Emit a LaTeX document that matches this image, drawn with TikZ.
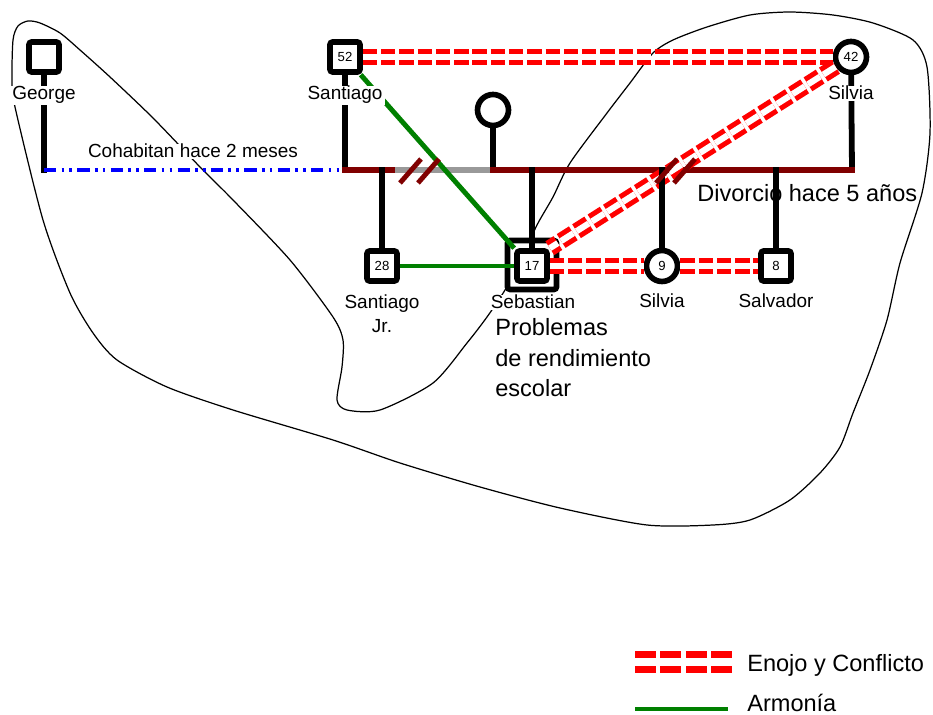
\documentclass[tikz,border=0pt]{standalone}
\usepackage{fontspec}
\setmainfont{Liberation Sans}
\usetikzlibrary{positioning}
\definecolor{marriage}{HTML}{800000}
\definecolor{separated}{HTML}{999999}
\definecolor{harmony}{HTML}{008000}
\definecolor{cohab}{HTML}{0000FF}
\definecolor{conflict}{HTML}{FF0000}
\tikzset{male/.style={draw,line width=3.2pt,fill=white,rectangle,rounded corners=1.5pt,minimum size=0.6cm,inner sep=0pt,font=\fontsize{7.5}{8}\selectfont},female/.style={male,circle,minimum size=0.62cm},lbl/.style={fill=white,inner xsep=1.5pt,inner ysep=0.4pt,font=\fontsize{10.8}{14.2}\selectfont,align=center},note/.style={inner sep=0pt,font=\fontsize{13.4}{17.6}\selectfont,align=left},kin/.style={line width=3.3pt,line cap=rect},couple/.style={kin,draw=marriage},apart/.style={kin,draw=separated},splitmark/.style={line width=2.8pt,draw=marriage},cohabit/.style={line width=2.6pt,draw=cohab,dash pattern=on 7pt off 3pt on 1.5pt off 3pt on 1.5pt off 3pt},harmonyline/.style={line width=2.8pt,draw=harmony},conflictline/.style={draw=conflict,line width=2.9pt,double=white,double distance=3.5pt,dash pattern=on 8.2pt off 2.2pt},boundary/.style={line width=0.7pt}}
\begin{document}
\begin{tikzpicture}[x=0.02cm,y=-0.02cm]
\useasboundingbox (0,0) rectangle (933,715);
% household boundary
\draw[boundary] plot[smooth cycle,tension=0.45] coordinates {(12,80) (13,40) (18,26) (28,21) (40,23) (60,33) (80,50) (110,77) (153,118) (200,167) (233,200) (290,260) (333,317) (343,340) (342,367) (337,400) (347,410) (380,410) (433,383) (467,343) (487,317) (505,290) (522,258) (537,225) (553,197) (570,163) (607,113) (630,83) (653,53) (673,40) (707,27) (750,15) (790,12) (833,15) (873,23) (913,40) (927,67) (930,133) (922,193) (900,263) (887,320) (870,370) (853,413) (840,447) (820,473) (790,500) (750,520) (713,525) (647,525) (560,508) (480,487) (400,463) (333,440) (233,410) (167,387) (117,360) (93,333) (70,293) (43,220) (15,107)};
\node[note,anchor=base west] (divorce) at (697,202) {Divorcio hace 5 años};
% people
\node[male] (george) at (44,57) {};
\node[male] (santiago) at (345,57) {52};
\node[female] (silvia) at (851,57) {42};
\node[female] (pareja) at (493,110) {};
\node[male] (sjr) at (382,266) {28};
\node[male,minimum size=0.98cm] (sebout) at (532,265) {};
\node[male] (seb) at (532,266) {17};
\node[female] (silviajr) at (662,266) {9};
\node[male] (salvador) at (776,266) {8};
% couple lines
\coordinate (mL) at (345,170);
\coordinate (gA) at (398,170);
\coordinate (gB) at (493,170);
\coordinate (mR) at (852,170);
\draw[kin] (george) -- (george |- mL);
\draw[kin] (santiago) -- (mL);
\draw[kin] (silvia) -- (mR);
\draw[kin] (pareja) -- (gB);
\draw[cohabit] (george |- mL) -- (mL);
\draw[couple] (mL) -- (gA);
\draw[apart] (gA) -- (gB);
\draw[couple] (gB) -- (mR);
% relations
\draw[conflictline] (santiago) -- (silvia);
\draw[conflictline] (silvia) -- (seb.north east);
\draw[conflictline] (seb) -- (silviajr) -- (salvador);
\draw[harmonyline] (santiago) -- (seb.north west);
\draw[harmonyline] (sjr) -- (seb);
% children
\draw[kin] (sjr |- mL) -- (sjr);
\draw[kin] (seb |- mL) -- (seb);
\draw[kin] (silviajr |- mL) -- (silviajr);
\draw[kin] (salvador |- mL) -- (salvador);
\coordinate (sepmark) at (419,171);
\coordinate (divmark) at (675,171);
\draw[splitmark] (sepmark) ++(-19,12) -- ++(21,-24);
\draw[splitmark] (sepmark) ++(-1,12) -- ++(21,-24);
\draw[splitmark] (divmark) ++(-19,12) -- ++(21,-24);
\draw[splitmark] (divmark) ++(-1,12) -- ++(21,-24);
% names
\node[lbl,anchor=base] (georgelbl) at (44,100) {George};
\node[lbl,anchor=base] (santiagolbl) at (345,100) {Santiago};
\node[lbl,anchor=base] (silvialbl) at (851,100) {Silvia};
\node[lbl,anchor=base] (cohablbl) at (193,158) {Cohabitan hace 2 meses};
\node[lbl,anchor=base] (sjrlbl) at (382,333) {Santiago\\Jr.};
\node[lbl,anchor=base] (seblbl) at (533,309) {Sebastian};
\node[lbl,anchor=base] (silviajrlbl) at (662,308) {Silvia};
\node[lbl,anchor=base] (salvadorlbl) at (776,308) {Salvador};
\node[note,anchor=base west] (problemas) at (495,397) {Problemas\\de rendimiento\\escolar};
% legend
\coordinate (lgA) at (635,662);
\coordinate (lgB) at (733,662);
\coordinate (lgC) at (635,709);
\coordinate (lgD) at (728,709);
\draw[conflictline,line width=4.2pt,double distance=4.4pt,dash pattern=on 11.9pt off 2.6pt] (lgA) -- (lgB);
\draw[harmonyline] (lgC) -- (lgD);
\node[note,anchor=base west] (enojo) at (747,672) {Enojo y Conflicto};
\node[note,anchor=base west] (armonia) at (747,711) {Armonía};
\end{tikzpicture}
\end{document}
